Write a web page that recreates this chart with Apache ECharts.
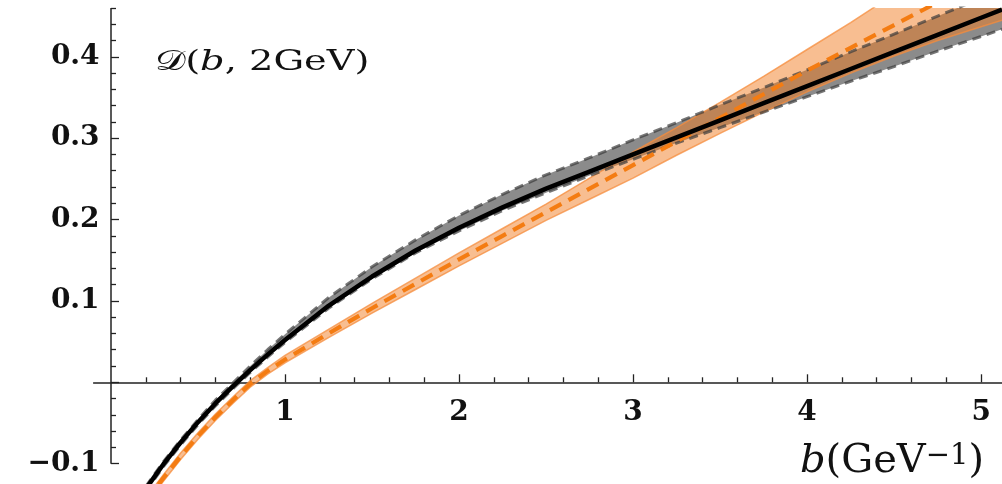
<!DOCTYPE html>
<html><head><meta charset="utf-8">
<script src="https://cdn.jsdelivr.net/npm/echarts@6/dist/echarts.min.js"></script>
<style>html,body{margin:0;padding:0;background:#fff}#c{width:1002px;height:484px}</style>
</head><body><div id="c"></div>
<script>
// ---- data ----
const bGrid = [0.2,0.25,0.3,0.4,0.5,0.6,0.7,0.8,0.9,1.0,1.25,1.5,1.75,2.0,2.25,2.5,2.75,3.0,3.25,3.5,3.75,4.0,4.25,4.5,4.75,5.0,5.12];
const blackMid   = [-0.131,-0.116,-0.101,-0.074,-0.049,-0.026,-0.005,0.015,0.034,0.052,0.094,0.130,0.162,0.190,0.215,0.238,0.259,0.280,0.301,0.322,0.343,0.364,0.385,0.406,0.427,0.448,0.458];
const blackUpper = [-0.128,-0.113,-0.098,-0.071,-0.046,-0.022,-0.001,0.020,0.040,0.059,0.104,0.142,0.175,0.205,0.231,0.255,0.276,0.298,0.319,0.341,0.362,0.384,0.406,0.428,0.450,0.472,0.483];
const blackLower = [-0.134,-0.119,-0.104,-0.077,-0.052,-0.029,-0.008,0.012,0.031,0.049,0.091,0.127,0.159,0.186,0.211,0.233,0.254,0.274,0.294,0.313,0.332,0.351,0.370,0.388,0.407,0.425,0.434];
const orangeMid   = [-0.146,-0.132,-0.118,-0.091,-0.066,-0.043,-0.022,-0.002,0.014,0.028,0.060,0.091,0.121,0.151,0.180,0.209,0.238,0.267,0.296,0.325,0.354,0.383,0.411,0.439,0.467,0.495,0.508];
const orangeUpper = [-0.142,-0.128,-0.114,-0.087,-0.062,-0.039,-0.018,0.002,0.018,0.033,0.065,0.097,0.128,0.159,0.189,0.219,0.251,0.283,0.313,0.344,0.376,0.409,0.442,0.477,0.514,0.553,0.571];
const orangeLower = [-0.150,-0.136,-0.122,-0.095,-0.070,-0.047,-0.026,-0.006,0.010,0.024,0.055,0.085,0.114,0.143,0.171,0.199,0.225,0.251,0.279,0.306,0.332,0.357,0.380,0.401,0.420,0.437,0.445];

// ---- axes ----
const xRange = [-0.1, 5.12];
const yRange = [-0.125, 0.46];
const xMajorTicks = [1,2,3,4,5];
const xMinorTicks = [0.2,0.4,0.6,0.8,1.2,1.4,1.6,1.8,2.2,2.4,2.6,2.8,3.2,3.4,3.6,3.8,4.2,4.4,4.6,4.8];
const xTickLabels = [1,2,3,4,5];
const yMajorTicks = [-0.1,0,0.1,0.2,0.3,0.4];
const yMinorTicks = [-0.08,-0.06,-0.04,-0.02,0.02,0.04,0.06,0.08,0.12,0.14,0.16,0.18,0.22,0.24,0.26,0.28,0.32,0.34,0.36,0.38,0.42,0.44,0.46];
const yTickLabels = [-0.1,0.1,0.2,0.3,0.4];
const yAxisSpan = [-0.1, 0.46];

const zip = (xs, ys) => xs.map((x, i) => [x, ys[i]]);

const LABEL_FONT = {fontFamily: 'DejaVu Serif', fontWeight: 'bold', fontSize: 28, color: '#111'};
const gridBox = {left: 93.6, right: 0, top: 8, bottom: 0, outerBoundsMode: 'none', containLabel: false};

function xAx(gridIndex, ticks, len, labels) {
  return {
    type: 'value', gridIndex, min: xRange[0], max: xRange[1],
    axisLine: {show: gridIndex === 0, onZero: true, lineStyle: {color: '#222', width: 1.5}},
    axisTick: {show: true, inside: true, length: len, customValues: ticks, lineStyle: {color: '#222', width: 1.3}},
    axisLabel: labels ? Object.assign({show: true, customValues: labels, margin: -85,
      formatter: v => String(Math.round(v))}, LABEL_FONT) : {show: false},
    splitLine: {show: false}
  };
}
function yAx(gridIndex, ticks, len, labels) {
  return {
    type: 'value', gridIndex, min: yRange[0], max: yRange[1],
    axisLine: {show: false, onZero: true},
    axisTick: {show: true, inside: true, length: len, customValues: ticks, lineStyle: {color: '#222', width: 1.3}},
    axisLabel: labels ? Object.assign({show: true, customValues: labels, margin: -6, padding: [8,0,0,0],
      formatter: v => (v < 0 ? '\u2212' + (-v).toFixed(1) : v.toFixed(1))}, LABEL_FONT) : {show: false},
    splitLine: {show: false}
  };
}

// band drawn as one polygon through the axes' scales
function band(name, lower, upper, fill) {
  return {
    type: 'custom', name, xAxisIndex: 0, yAxisIndex: 0, silent: true,
    data: zip(bGrid, lower),
    renderItem: (params, api) => {
      if (params.dataIndex !== 0) return null;
      const pts = [];
      bGrid.forEach((b, i) => pts.push(api.coord([b, upper[i]])));
      for (let i = bGrid.length - 1; i >= 0; i--) pts.push(api.coord([bGrid[i], lower[i]]));
      const cs = params.coordSys;
      return {
        type: 'polygon', shape: {points: pts}, style: {fill},
        clipPath: {type: 'rect', shape: {x: cs.x, y: cs.y, width: cs.width, height: cs.height}}
      };
    }
  };
}

const base = {type: 'line', xAxisIndex: 0, yAxisIndex: 0, symbol: 'none', silent: true, smooth: false};

const series = [
  band('gband', blackLower, blackUpper, 'rgba(90,90,90,0.7)'),
  band('oband', orangeLower, orangeUpper, 'rgba(242,125,35,0.5)'),
  Object.assign({}, base, {name: 'oup', data: zip(bGrid, orangeUpper), lineStyle: {color: 'rgba(245,140,60,0.75)', width: 1.5}}),
  Object.assign({}, base, {name: 'olo', data: zip(bGrid, orangeLower), lineStyle: {color: 'rgba(245,140,60,0.75)', width: 1.5}}),
  Object.assign({}, base, {name: 'gup', data: zip(bGrid, blackUpper), lineStyle: {color: 'rgba(60,60,60,0.7)', width: 3, type: [9, 6]}}),
  Object.assign({}, base, {name: 'glo', data: zip(bGrid, blackLower), lineStyle: {color: 'rgba(60,60,60,0.7)', width: 3, type: [9, 6]}}),
  Object.assign({}, base, {name: 'omid', data: zip(bGrid, orangeMid), lineStyle: {color: '#f47c12', width: 4.2, type: [13, 8]}}),
  Object.assign({}, base, {name: 'bmid', data: zip(bGrid, blackMid), lineStyle: {color: '#000', width: 4.5}}),
  Object.assign({}, base, {name: 'yaxisline', data: yAxisSpan.map(v => [0, v]), lineStyle: {color: '#222', width: 1.5}, z: 5})
];

const chart = echarts.init(document.getElementById('c'), null, {renderer: 'canvas'});
chart.setOption({
  animation: false,
  backgroundColor: '#fff',
  grid: [Object.assign({}, gridBox), Object.assign({}, gridBox)],
  xAxis: [xAx(0, xMajorTicks, 8, xTickLabels), xAx(1, xMinorTicks, 5, null)],
  yAxis: [yAx(0, yMajorTicks, 8, yTickLabels), yAx(1, yMinorTicks, 5, null)],
  series,
  graphic: [
    {type: 'text', x: 155, y: 49, scaleX: 1.37, silent: true, z: 10,
     style: {text: '{d|\uD835\uDC9F}{r|(}{i|b}{r|, 2GeV)}', rich: {
       d: {fontFamily: 'DejaVu Serif', fontSize: 28, fill: '#111'},
       r: {fontFamily: 'DejaVu Serif', fontSize: 28, fill: '#111'},
       i: {fontFamily: 'DejaVu Serif', fontStyle: 'italic', fontSize: 28, fill: '#111'}}}},
    {type: 'text', x: 800, y: 442, silent: true, z: 10,
     style: {text: '{i|b}{r|(GeV}{s|\u22121}{r|)}', rich: {
       i: {fontFamily: 'DejaVu Serif', fontStyle: 'italic', fontSize: 40, lineHeight: 40, fill: '#111'},
       r: {fontFamily: 'DejaVu Serif', fontSize: 40, lineHeight: 40, fill: '#111'},
       s: {fontFamily: 'DejaVu Serif', fontSize: 29, lineHeight: 18, verticalAlign: 'top', fill: '#111'}}}}
  ]
});
</script></body></html>
